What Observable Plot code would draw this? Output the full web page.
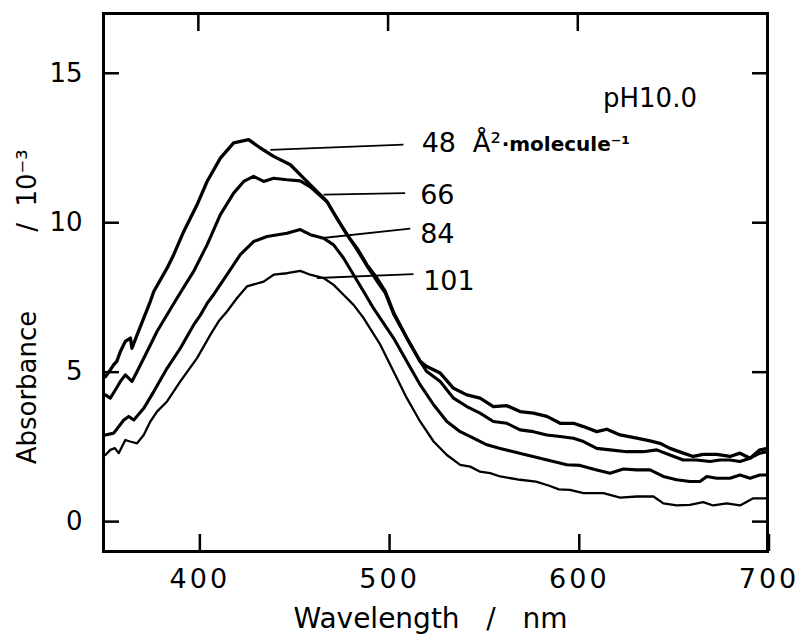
<!DOCTYPE html>
<html>
<head>
<meta charset="utf-8">
<script src="https://cdn.jsdelivr.net/npm/d3@7"></script>
<script src="https://cdn.jsdelivr.net/npm/@observablehq/plot@0.6"></script>
<style>
  body { margin: 0; background: #fff; }
  #chart svg { display: block; }
  g[aria-label="x-axis tick label"] text { letter-spacing: 3px; }
  g[aria-label="area-label"] text { letter-spacing: 3px; }
  g[aria-label="ph-label"] text { letter-spacing: 1.5px; }
  g[aria-label="unit-small"] text { letter-spacing: 0.5px; }
  g[aria-label="x-title"] text { letter-spacing: 0.5px; }
  g[aria-label="y-title"] text { letter-spacing: 0.5px; }
</style>
</head>
<body>
<div id="chart"></div>
<script>
// ---- Data ----
// Absorbance (x 10^-3) vs wavelength (nm) at four molecular areas (Å²/molecule)
const s48 = [
  [351,4.85],[353,5.02],[355.4,5.25],[357,5.36],[358.9,5.69],[361.5,6.03],[364.2,6.14],[365,5.8],
  [367.7,6.25],[371.2,6.81],[374.7,7.37],[376.5,7.7],[383.5,8.48],[387,8.93],[392.3,9.71],[399.3,10.6],
  [404.6,11.38],[411.6,12.16],[418.6,12.67],[426.5,12.78],[432.7,12.5],[439.7,12.22],[448.5,11.94],
  [455.5,11.49],[462.5,11.05],[467.8,10.71],[473,10.15],[478.3,9.6],[483.6,9.15],[488.9,8.59],
  [494.1,8.15],[498.5,7.7],[502.9,7.0],[509.9,6.14],[516.9,5.36],[520.4,5.19],[527.5,4.97],
  [534.5,4.46],[541.5,4.24],[548.5,4.13],[555.5,3.85],[562.6,3.88],[569.6,3.68],[576.6,3.63],
  [583.7,3.52],[590.7,3.29],[597.7,3.29],[603,3.18],[610,3.01],[615.3,3.09],[622.3,2.9],[631.1,2.79],
  [638.1,2.7],[643.3,2.62],[648.6,2.45],[655.6,2.29],[660.9,2.18],[666.1,2.25],[673.2,2.25],
  [680.2,2.18],[685.5,2.29],[690.8,2.12],[696,2.4],[700,2.45]
];
const s66 = [
  [351,4.24],[353.6,4.13],[356.3,4.41],[358.9,4.69],[361.5,4.91],[365,4.69],[367.7,5.02],[373,5.69],
  [378.2,6.36],[383.5,6.92],[388.8,7.48],[397.5,8.37],[404.6,9.26],[411.6,10.27],[418.6,10.99],
  [423.9,11.38],[429.1,11.55],[434.4,11.38],[439.7,11.49],[446.7,11.44],[453.7,11.4],[459,11.2],
  [462.5,11.0],[467.8,10.7],[473,10.15],[478.3,9.62],[483.6,9.1],[488.9,8.55],[494.1,8.05],
  [498.5,7.65],[502.9,6.95],[509.9,6.14],[516.9,5.36],[520.4,5.02],[527.5,4.69],[534.5,4.13],
  [541.5,3.85],[548.5,3.63],[555.5,3.35],[562.6,3.29],[569.6,3.07],[576.6,3.01],[583.7,2.9],
  [590.7,2.85],[597.7,2.79],[603,2.68],[610,2.45],[617,2.4],[625.8,2.34],[634.6,2.34],[641.6,2.4],
  [648.6,2.23],[655.6,2.06],[662.6,2.06],[669.7,2.01],[675,2.06],[680.2,2.06],[685.5,2.01],
  [690.8,2.12],[696,2.29],[700,2.34]
];
const s84 = [
  [351,2.9],[355.4,2.96],[360.7,3.4],[363.3,3.52],[366,3.4],[371.2,3.79],[376.5,4.35],[383.5,5.13],
  [390.5,5.8],[397.5,6.58],[401,6.9],[404.6,7.3],[408.1,7.6],[415.1,8.26],[422.1,8.93],[429.1,9.37],
  [436.2,9.54],[446.7,9.65],[453.7,9.77],[459,9.6],[466,9.48],[471.3,9.26],[476.5,8.82],[481.8,8.26],
  [487.1,7.7],[492.3,7.14],[495.9,6.8],[502.9,6.14],[509.9,5.36],[516.9,4.58],[524,3.91],[531,3.35],
  [538,3.01],[545,2.79],[552.1,2.57],[559.1,2.45],[566.1,2.34],[573.1,2.23],[580.1,2.12],[587.2,2.01],
  [594.2,1.9],[601.2,1.88],[610,1.73],[617,1.62],[624,1.76],[631.1,1.73],[638.1,1.73],[645.1,1.51],
  [652.1,1.4],[659.1,1.34],[664.4,1.34],[668,1.51],[673.2,1.45],[680.2,1.45],[685.5,1.56],
  [690.8,1.45],[696,1.56],[700,1.56]
];
const s101 = [
  [351,2.23],[353.6,2.4],[356,2.46],[358,2.29],[361.5,2.73],[364,2.68],[367.7,2.62],[371.2,2.9],
  [374.7,3.35],[378.2,3.68],[383.5,4.02],[390.5,4.69],[399.3,5.47],[406.3,6.25],[410.7,6.7],
  [415.1,7.03],[420.4,7.48],[425.6,7.87],[434.4,8.03],[439.7,8.26],[446.7,8.31],[453.7,8.39],
  [459,8.26],[466,8.15],[471.3,7.92],[476.5,7.59],[481.8,7.25],[487.1,6.81],[495.9,5.92],
  [502.9,5.02],[509.9,4.13],[516.9,3.35],[524,2.68],[531,2.23],[538,1.9],[543.3,1.84],[548.5,1.67],
  [553.8,1.62],[559.1,1.51],[569.6,1.4],[578,1.34],[585,1.2],[590,1.08],[595.9,1.06],[603,0.95],
  [613.5,0.95],[622.3,0.8],[631.1,0.84],[639.9,0.84],[645.1,0.61],[652.1,0.54],[659.1,0.56],
  [666.1,0.65],[671.4,0.54],[678.5,0.61],[685.5,0.54],[692.5,0.78],[700,0.78]
];

const areas = ["48", "66", "84", "101"];
// leader lines: [area, wl1, abs1, wl2, abs2]
const leaders = [
  ["48", 437.9, 12.44, 508.1, 12.61],
  ["66", 466.0, 10.94, 509.0, 10.99],
  ["84", 464.3, 9.48, 511.7, 9.80],
  ["101", 462.5, 8.15, 513.4, 8.28]
];
// label anchors (text start, baseline): [text, wl, abs]
const areaLabels = [
  ["48", 517.7, 12.35],
  ["66", 516.9, 10.63],
  ["84", 516.9, 9.32],
  ["101", 518.5, 7.76]
];
const unitBig = "Å²";
const unitSmall = "·molecule⁻¹";
const phLabel = [["pH10.0", 613.3, 13.86]];

const xTicks = [400, 500, 600, 700];
const yTicks = [0, 5, 10, 15];
const xDomain = [350, 700];
const yDomain = [-1, 17];
const xTitle = "Wavelength\u00a0\u00a0\u00a0/\u00a0\u00a0\u00a0nm";
const yTitleMain = "Absorbance";
const yTitleUnit = "/\u00a0\u00a010⁻³";

// ---- Build tables ----
const toRows = (area, pts) => pts.map(([wl, a]) => ({area, wl, abs: a}));
const rows48 = toRows("48", s48);
const rows66 = toRows("66", s66);
const rows84 = toRows("84", s84);
const rows101 = toRows("101", s101);
const leaderRows = leaders.map(([area, x1, y1, x2, y2]) => ({area, x1, y1, x2, y2}));
const labelRows = areaLabels.map(([text, wl, abs]) => ({text, wl, abs}));
const unitAnchor = [labelRows[0]];

const plot = Plot.plot({
  width: 808,
  height: 636,
  marginLeft: 103,
  marginRight: 41,
  marginTop: 13,
  marginBottom: 85,
  x: {domain: xDomain},
  y: {domain: yDomain},
  style: {background: "white", color: "black", fontFamily: "DejaVu Sans", fontSize: "26px", overflow: "visible"},
  marks: [
    Plot.frame({stroke: "black", strokeWidth: 3}),
    // bottom ticks (inward) + labels
    Plot.axisX({anchor: "bottom", ticks: xTicks, tickSize: 17, dy: -17, tickPadding: 17, dx: 1.5,
      strokeWidth: 2.5, fontSize: 27, label: null}),
    // top ticks (inward), no labels
    Plot.axisX({anchor: "top", ticks: xTicks.slice(0, 3), tickSize: 17, dy: 17, strokeWidth: 2.5,
      fill: "none", label: null}),
    // left ticks + labels
    Plot.axisY({anchor: "left", ticks: yTicks, tickSize: 16, dx: 16, tickPadding: 21,
      strokeWidth: 2.5, fontSize: 26, label: null}),
    // right ticks, no labels
    Plot.axisY({anchor: "right", ticks: yTicks, tickSize: 16, dx: -16, strokeWidth: 2.5,
      fill: "none", label: null}),
    // spectra
    Plot.line(rows48, {x: "wl", y: "abs", stroke: "black", strokeWidth: 3.3}),
    Plot.line(rows66, {x: "wl", y: "abs", stroke: "black", strokeWidth: 3.1}),
    Plot.line(rows84, {x: "wl", y: "abs", stroke: "black", strokeWidth: 3.1}),
    Plot.line(rows101, {x: "wl", y: "abs", stroke: "black", strokeWidth: 2.3}),
    // leader lines
    Plot.link(leaderRows, {x1: "x1", y1: "y1", x2: "x2", y2: "y2", stroke: "black", strokeWidth: 1.8}),
    // area labels
    Plot.text(labelRows, {x: "wl", y: "abs", text: "text", textAnchor: "start", lineAnchor: "bottom",
      fontSize: 27, fill: "black", ariaLabel: "area-label"}),
    Plot.text(unitAnchor, {x: "wl", y: "abs", text: () => unitBig, textAnchor: "start", lineAnchor: "bottom",
      dx: 51, fontSize: 26, fill: "black"}),
    Plot.text(unitAnchor, {x: "wl", y: "abs", text: () => unitSmall, textAnchor: "start", lineAnchor: "bottom",
      dx: 80, dy: -1, fontSize: 20, fontWeight: "bold", fill: "black", ariaLabel: "unit-small"}),
    // pH label
    Plot.text(phLabel, {x: d => d[1], y: d => d[2], text: d => d[0], textAnchor: "start", lineAnchor: "bottom",
      fontSize: 26, fill: "black", ariaLabel: "ph-label"}),
    // axis titles
    Plot.text([xTitle], {text: d => d, frameAnchor: "bottom", dy: 68, dx: -5, textAnchor: "middle",
      lineAnchor: "middle", fontSize: 28, fill: "black", ariaLabel: "x-title"}),
    Plot.text([yTitleMain], {text: d => d, frameAnchor: "left", rotate: -90, dx: -76, dy: 105,
      textAnchor: "middle", lineAnchor: "middle", fontSize: 26, fill: "black", ariaLabel: "y-title"}),
    Plot.text([yTitleUnit], {text: d => d, frameAnchor: "left", rotate: -90, dx: -76, dy: -92,
      textAnchor: "middle", lineAnchor: "middle", fontSize: 26, fill: "black", ariaLabel: "y-title"})
  ]
});
document.getElementById("chart").appendChild(plot);
</script>
</body>
</html>
